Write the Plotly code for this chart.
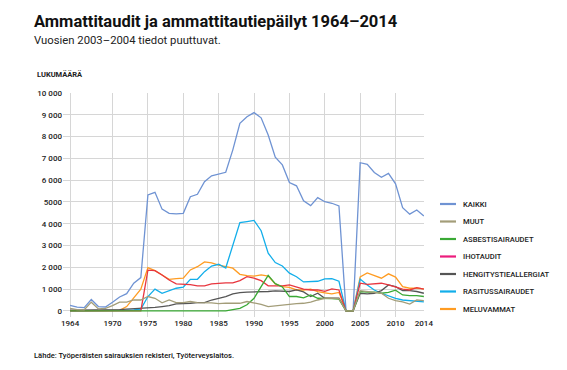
import plotly.graph_objects as go

years = list(range(1964, 2015))

kaikki = [250, 170, 150, 520, 200, 180, 400, 640, 790, 1270, 1530,
          5320, 5440, 4670, 4480, 4450, 4480, 5240, 5350, 5930, 6200,
          6270, 6360, 7390, 8610, 8910, 9100, 8860, 8070, 7050, 6700,
          5890, 5740, 5050, 4830, 5200, 5010, 4940, 4820, 0, 0,
          6800, 6730, 6350, 6130, 6310, 5830, 4740, 4440, 4630, 4360]

muut = [120, 60, 50, 400, 90, 120, 240, 400, 400, 500, 500,
        660, 580, 370, 500, 380, 380, 430, 380, 380, 370,
        330, 360, 350, 350, 430, 380, 300, 200, 240, 280,
        300, 330, 350, 400, 500, 580, 580, 560, 0, 0,
        930, 890, 860, 810, 580, 470, 410, 310, 500, 470]

asbesti = [0, 0, 0, 0, 0, 0, 0, 0, 0, 0, 0,
           0, 0, 0, 0, 0, 0, 0, 0, 0, 0,
           0, 0, 60, 120, 280, 580, 1110, 1630, 1250, 1100,
           660, 660, 600, 730, 580, 580, 560, 540, 0, 0,
           890, 860, 860, 810, 850, 950, 730, 700, 700, 660]

ihotaudit = [0, 0, 0, 0, 0, 0, 0, 0, 0, 0, 0,
             1870, 1850, 1650, 1420, 1240, 1240, 1210, 1150, 1150, 1240,
             1270, 1290, 1290, 1390, 1570, 1500, 1390, 1150, 1150, 1150,
             1190, 1090, 1000, 960, 960, 900, 1010, 960, 0, 0,
             1270, 1220, 1240, 1270, 1190, 1110, 1000, 960, 1070, 1000]

hengitys = [30, 30, 30, 30, 30, 30, 50, 60, 80, 100, 100,
            120, 160, 200, 240, 320, 320, 350, 380, 380, 500,
            580, 660, 780, 840, 860, 860, 860, 890, 920, 920,
            890, 960, 870, 660, 810, 580, 580, 580, 0, 0,
            810, 780, 810, 930, 1190, 1110, 930, 930, 890, 810]

rasitus = [0, 0, 0, 0, 0, 0, 0, 0, 30, 50, 80,
           660, 1000, 810, 920, 1040, 1090, 1450, 1450, 1800, 2060,
           2140, 1970, 3020, 4050, 4100, 4150, 3680, 2650, 2220, 2060,
           1730, 1570, 1330, 1330, 1360, 1470, 1480, 1360, 0, 0,
           1460, 1190, 960, 810, 690, 580, 500, 470, 470, 410]

melu = [0, 0, 0, 0, 0, 0, 0, 30, 200, 580, 1000,
        1990, 1850, 1650, 1450, 1480, 1500, 1880, 2030, 2250, 2200,
        2100, 2030, 1960, 1680, 1620, 1600, 1650, 1600, 1240, 1110,
        1080, 960, 960, 1000, 880, 830, 780, 850, 0, 0,
        1560, 1740, 1610, 1500, 1700, 1550, 1110, 1040, 1040, 1010]

series_names = ["KAIKKI", "MUUT", "ASBESTISAIRAUDET", "IHOTAUDIT",
                "HENGITYSTIEALLERGIAT", "RASITUSSAIRAUDET", "MELUVAMMAT"]
series_values = [kaikki, muut, asbesti, ihotaudit, hengitys, rasitus, melu]
line_colors = ["#6f93d3", "#a39d79", "#3aa935", "#e8363f",
               "#555555", "#12aeea", "#ff9c22"]
legend_colors = ["#6f93d3", "#a39d79", "#3aa935", "#ec1c7c",
                 "#555555", "#12aeea", "#ff9c22"]

y_ticks = list(range(0, 10001, 1000))
y_ticktext = ["0", "1 000", "2 000", "3 000", "4 000", "5000",
              "6 000", "7 000", "8 000", "9 000", "10 000"]
x_ticks = [1964, 1970, 1975, 1980, 1985, 1990, 1995, 2000, 2005, 2010, 2014]

# page body has an 8px default margin; layout coordinates compensate
OFF = 8
W, H = 567, 370
L, R, T, B = 63 - OFF, 424 - OFF, 93 - OFF, 317 - OFF


def fx(p):
    return (p - OFF - L) / (R - L)


def fy(p):
    return (B - (p - OFF)) / (B - T)


FONT = "Roboto"
fig = go.Figure()
draw_order = [0, 6, 5, 4, 3, 2, 1]
for i in draw_order:
    fig.add_trace(go.Scatter(
        x=years, y=series_values[i], mode="lines", name=series_names[i],
        line=dict(color=line_colors[i], width=1.3),
        showlegend=False, hoverinfo="x+y+name"))

annotations = [
    dict(text="<b>Ammattitaudit ja ammattitautiepäilyt 1964–2014</b>",
         x=fx(32), y=fy(21), font=dict(size=16.5, color="#111")),
    dict(text="Vuosien 2003–2004 tiedot puuttuvat.",
         x=fx(32), y=fy(40), font=dict(size=11.3, color="#222")),
    dict(text="<b>LUKUMÄÄRÄ</b>", x=fx(35), y=fy(74),
         font=dict(size=7.5, color="#222")),
    dict(text="Lähde: Työperäisten sairauksien rekisteri, Työterveyslaitos.",
         x=fx(32), y=fy(355), font=dict(size=7.6, color="#111", weight=500)),
]
shapes = []
leg_y0, leg_dy = 204, 17.5
for k, name in enumerate(series_names):
    yc = leg_y0 + k * leg_dy
    shapes.append(dict(type="line", xref="paper", yref="paper",
                       x0=fx(440), x1=fx(456), y0=fy(yc), y1=fy(yc),
                       line=dict(color=legend_colors[k], width=2.2)))
    annotations.append(dict(text=name, x=fx(461), y=fy(yc),
                            font=dict(size=7.6, color="#222", weight=500)))

for a in annotations:
    a.update(xref="paper", yref="paper", xanchor="left", yanchor="middle",
             showarrow=False)
    a["font"]["family"] = FONT

fig.update_layout(
    width=W, height=H,
    margin=dict(l=L, r=W - R, t=T, b=H - B, autoexpand=False),
    paper_bgcolor="white", plot_bgcolor="white",
    font=dict(family=FONT, size=8, color="#222"),
    showlegend=False,
    annotations=annotations, shapes=shapes,
    xaxis=dict(range=[1963, 2014.02], tickvals=x_ticks,
               ticktext=[str(v) for v in x_ticks],
               showgrid=True, gridcolor="#d6d6d6", gridwidth=1,
               zeroline=False, showline=False, ticks="",
               tickfont=dict(size=8, color="#222", weight=500)),
    yaxis=dict(range=[-280, 10000], tickvals=y_ticks, ticktext=y_ticktext,
               showgrid=True, gridcolor="#d6d6d6", gridwidth=1,
               zeroline=False, showline=False, ticks="",
               tickfont=dict(size=8, color="#222", weight=500)),
)

fig.write_html("out.html")
